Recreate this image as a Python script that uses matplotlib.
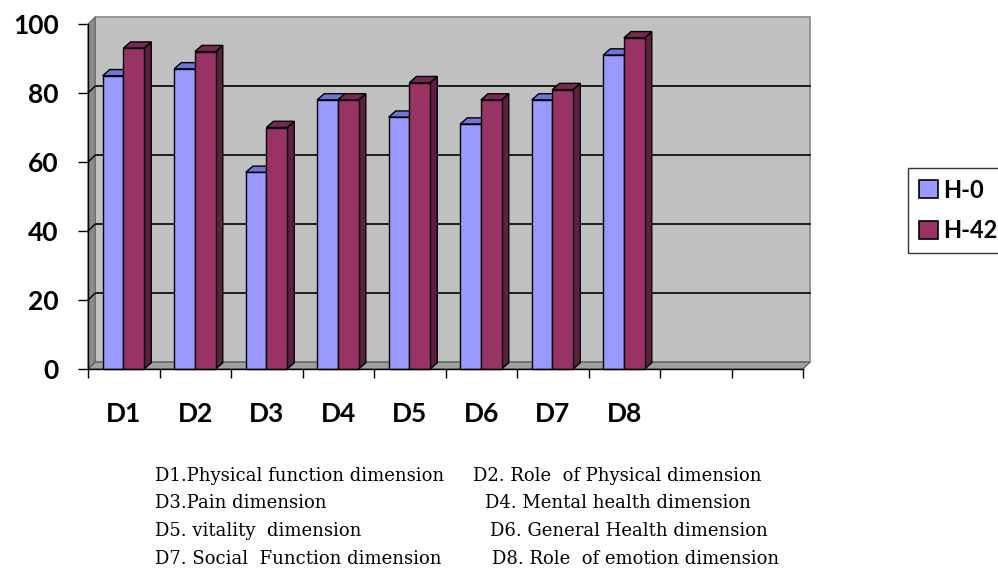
import numpy as np
import matplotlib.pyplot as plt
from matplotlib.patches import Polygon, Rectangle

# values
categories = ["D1", "D2", "D3", "D4", "D5", "D6", "D7", "D8", "", ""]
h0 = [85, 87, 57, 78, 73, 71, 78, 91]
h42 = [93, 92, 70, 78, 83, 78, 81, 96]
series_names = ["H-0", "H-42"]
y_ticks = [0, 20, 40, 60, 80, 100]

notes_left = ["D1.Physical function dimension", "D3.Pain dimension",
              "D5. vitality  dimension", "D7. Social  Function dimension"]
notes_right = ["D2. Role  of Physical dimension", "D4. Mental health dimension",
               "D6. General Health dimension", "D8. Role  of emotion dimension"]

face_cols = ["#9999FF", "#993366"]
side_cols = ["#5c5cb0", "#5e1f40"]
top_cols = ["#7373d6", "#7a2852"]

fig = plt.figure(figsize=(9.98, 5.71), dpi=100)
ax = fig.add_axes([88 / 998, 1 - 369 / 571, 715 / 998, 345 / 571])
ax.set_xlim(0, 10)
ax.set_ylim(0, 100)
ax.set_facecolor("none")

# 3d offset of the back wall (data units)
wdx, wdy = 0.1, 2.0
# back wall
ax.add_patch(Rectangle((wdx, wdy), 10, 100, facecolor="#C0C0C0", edgecolor="#8a8a8a",
                       lw=1.2, clip_on=False, zorder=0))
for yv in y_ticks[1:-1]:
    ax.plot([wdx, 10 + wdx], [yv + wdy, yv + wdy], color="black", lw=1.2, zorder=1, clip_on=False)
    ax.plot([0, wdx], [yv, yv + wdy], color="black", lw=1.0, zorder=3, clip_on=False)
# left wall
ax.add_patch(Polygon([(0, 0), (wdx, wdy), (wdx, 100 + wdy), (0, 100)], closed=True,
                     facecolor="#8c8c8c", edgecolor="#666666", lw=0.8, clip_on=False, zorder=2))
# floor
ax.add_patch(Polygon([(0, 0), (10, 0), (10 + wdx, wdy), (wdx, wdy)], closed=True,
                     facecolor="#a0a0a0", edgecolor="#555555", lw=0.8, clip_on=False, zorder=2))

# bars
bdx, bdy = 0.1, 1.8
w = 0.29
start = 0.205
for s, vals in enumerate([h0, h42]):
    for i, v in enumerate(vals):
        x0 = i + start + s * w
        x1 = x0 + w
        z = 4 + s
        ax.add_patch(Polygon([(x1, 0), (x1 + bdx, bdy), (x1 + bdx, v + bdy), (x1, v)], closed=True,
                             facecolor=side_cols[s], edgecolor="black", lw=1.0, zorder=z, clip_on=False))
        ax.add_patch(Polygon([(x0, v), (x0 + bdx, v + bdy), (x1 + bdx, v + bdy), (x1, v)], closed=True,
                             facecolor=top_cols[s], edgecolor="black", lw=1.0, zorder=z, clip_on=False))
        ax.add_patch(Rectangle((x0, 0), w, v, facecolor=face_cols[s], edgecolor="black",
                               lw=1.0, zorder=z, clip_on=False))

for side in ["top", "right"]:
    ax.spines[side].set_visible(False)
ax.spines["left"].set_linewidth(1.0)
ax.spines["bottom"].set_linewidth(1.0)
ax.spines["left"].set_zorder(10)
ax.spines["bottom"].set_zorder(10)

ax.set_yticks(y_ticks)
ax.set_yticklabels([str(t) for t in y_ticks], fontfamily="Lato", fontweight="bold", fontsize=19)
ax.tick_params(axis="y", direction="out", length=7, width=1, pad=14)

ax.set_xticks(np.arange(0, 11))
ax.set_xticklabels([])
ax.tick_params(axis="x", which="major", direction="out", length=6.5, width=1)
ax.set_xticks(np.arange(10) + 0.5, minor=True)
ax.set_xticklabels(categories, minor=True, fontfamily="Lato", fontweight="bold", fontsize=19)
ax.tick_params(axis="x", which="minor", length=0, pad=24)

# legend
handles = [Rectangle((0, 0), 1, 1, facecolor=c, edgecolor="black", lw=1.2) for c in face_cols]
leg = fig.legend(handles, series_names, loc="upper left", bbox_to_anchor=(908 / 998, 1 - 168 / 571),
                 frameon=True, fancybox=False, edgecolor="black",
                 prop={"family": "Lato", "weight": "bold", "size": 17},
                 handlelength=0.8, handleheight=0.8, handletextpad=0.25,
                 labelspacing=0.75, borderpad=0.45, borderaxespad=0)
leg.get_frame().set_linewidth(1.0)

# notes below the chart
row_y = [476, 503, 531, 559]
right_x = [473, 485, 490, 492]
for k in range(4):
    fig.text(155 / 998, 1 - row_y[k] / 571, notes_left[k], fontfamily="DejaVu Serif",
             fontsize=13, va="center", ha="left")
    fig.text(right_x[k] / 998, 1 - row_y[k] / 571, notes_right[k], fontfamily="DejaVu Serif",
             fontsize=13, va="center", ha="left")

fig.savefig("out.png", dpi=100)
